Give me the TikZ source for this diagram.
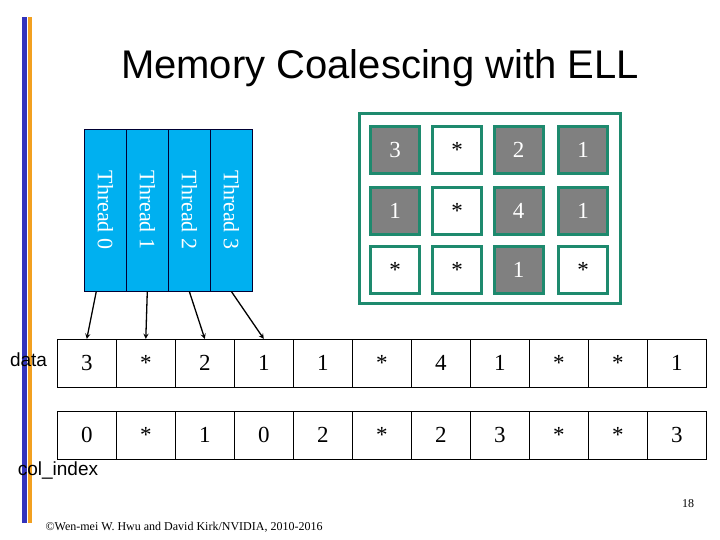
\documentclass[tikz,border=0pt]{standalone}
\usepackage{fontspec}
\setmainfont{Liberation Serif}
\newfontfamily\arialfont{Liberation Sans}
\usetikzlibrary{positioning}

\definecolor{barblue}{RGB}{51,51,187}
\definecolor{barorange}{RGB}{242,160,32}
\definecolor{threadcyan}{RGB}{0,176,240}
\definecolor{ellteal}{RGB}{30,138,110}
\definecolor{cellgray}{RGB}{128,128,128}

\begin{document}
\begin{tikzpicture}[
    x=1pt, y=-1pt,
    thread/.style={rectangle, draw=black!80!blue, fill=threadcyan, line width=0.8pt,
        minimum width=42pt, minimum height=162pt, inner sep=0pt},
    threadtext/.style={rotate=-90, text=white, font=\fontsize{22}{22}\selectfont},
    cell/.style={rectangle, draw=black, line width=0.8pt, minimum width=59pt,
        minimum height=48pt, inner sep=0pt, font=\fontsize{23}{23}\selectfont},
    full/.style={rectangle, draw=ellteal, line width=3pt, fill=cellgray, text=white,
        minimum width=49pt, minimum height=47pt, inner sep=0pt, font=\fontsize{23}{23}\selectfont},
    empty/.style={full, fill=white, text=black},
    label/.style={font=\arialfont\fontsize{19}{19}\selectfont},
    >=stealth
]
\useasboundingbox (0,0) rectangle (720,540);

% Side bars
\fill[barblue] (22,17) rectangle (27,523);
\fill[barorange] (28,17) rectangle (32,523);

% Title
\node[font=\arialfont\fontsize{40}{40}\selectfont] (title) at (380,68) {Memory Coalescing with ELL};

% Threads
\foreach \t in {0,1,2,3}
  \node[thread] (T\t) at ({105.3+42*\t},210) {};
\foreach \t in {0,1,2,3}
  \node[threadtext] at (T\t) {Thread \t};

% ELL matrix (3 rows, 4 columns)
\draw[ellteal, line width=3pt] (359.3,114) rectangle (620.7,303.3);
\node[full]  (M11) at (395.2,150) {3};
\node[empty] (M12) at (457.2,150) {*};
\node[full]  (M13) at (518.5,150) {2};
\node[full]  (M14) at (583,150) {1};
\node[full]  (M21) at (395.2,211.3) {1};
\node[empty] (M22) at (457.2,211.3) {*};
\node[full]  (M23) at (518.5,211.3) {4};
\node[full]  (M24) at (583,211.3) {1};
\node[empty] (M31) at (395.2,270) {*};
\node[empty] (M32) at (457.2,270) {*};
\node[full]  (M33) at (518.5,270) {1};
\node[empty] (M34) at (583,270) {*};

% data array
\foreach \v [count=\i] in {3,*,2,1,1,*,4,1,*,*,1}
  \node[cell] (d\i) at ({57.3+59*(\i-0.5)},363.3) {\v};
\node[label] (data) at (28.5,360) {data};

% col_index array
\foreach \v [count=\i] in {0,*,1,0,2,*,2,3,*,*,3}
  \node[cell] (c\i) at ({57.3+59*(\i-0.5)},435.3) {\v};
\node[label] (colidx) at (58,471) {col\_index};

% Thread arrows
\draw[->, line width=1.3pt] ([xshift=-9pt]T0.south) -- (d1.north);
\draw[->, line width=1.3pt] (T1.south) -- (d2.north);
\draw[->, line width=1.3pt] (T2.south) -- (d3.north);
\draw[->, line width=1.3pt] (T3.south) -- (d4.north);

% Footer
\node[font=\fontsize{12}{12}\selectfont, anchor=west] (copy) at (42,527)
  {\textcopyright Wen-mei W. Hwu and David Kirk/NVIDIA, 2010-2016};
\node[font=\fontsize{12}{12}\selectfont] (page) at (688,504) {18};

\end{tikzpicture}
\end{document}
